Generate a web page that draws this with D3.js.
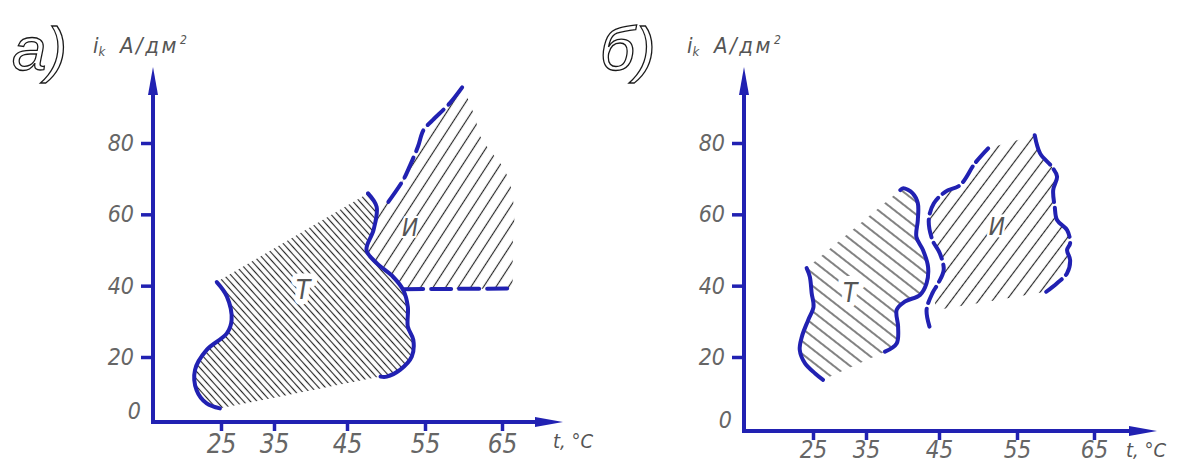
<!DOCTYPE html>
<html><head><meta charset="utf-8">
<script src="https://cdn.jsdelivr.net/npm/d3@7"></script>
<style>
html,body{margin:0;padding:0;background:#fff;}
svg{display:block;}
</style></head><body>
<svg id="chart" width="1178" height="465"></svg>
<script>
// ================= DATA =================
const xTicks = [25, 35, 45, 55, 65];          // t, °C
const yTicks = [0, 20, 40, 60, 80];           // i_k, A/дм²
const panelLetters = ["а)", "б)"];
const yTitleParts = ["i", "k", " A/дм", "2"];
const xTitle = "t, °C";
const regionNames = ["Т", "И"];

// ---- panel а) : [t, i] ----
const aTLeft  = [[24.2,41],[26.1,37],[27,30.4],[26.1,26.6],[22.3,22],[20.1,16.4],[20.4,10.7],[22.3,7],[24.8,5.6]];
const aTRight = [[47.7,65.9],[48.8,62.1],[48.4,55.6],[47.5,50],[48.8,46.3],[50.9,42.5],[52.2,38.8],[52.8,34.1],[52.8,28.5],[53.5,24.8],[53.3,20.1],[51.8,16.4],[50.1,14.5],[49.3,14.5]];
const aIBottom = [[52.2,39],[66.4,39.2]];
const aITop   = [[50.3,63.5],[52.2,69.6],[53.2,74.3],[54.1,79],[54.8,83.6],[56,86.4],[58.2,91.1],[59.9,95.8]];
const aIEdge  = [[59.9,95.8],[61.5,87.3],[62.1,82.2],[63.7,77.2],[65.1,73.3],[66,68.8],[66.6,60.4],[66.4,51.4],[66.4,39.2]];
const aLabelPos = [[39,38.8],[53.1,56.4]];

// ---- panel б) : [t, i] ----
const bTLeft  = [[23.8,44.9],[24.4,42.5],[24.75,37.9],[25.1,34.1],[24.1,30.4],[22.9,25.7],[22.5,22],[23.5,18.2],[25.4,15.4],[26.9,13.6]];
const bTRight = [[39.7,66.8],[40.1,67.3],[41.4,65.9],[42.1,63.1],[42.1,58.4],[41.9,53.7],[42.8,50],[43.5,45.3],[43.3,40.7],[42.4,37.4],[40.3,35.5],[39.2,33.2],[39.4,28.5],[39.2,23.8],[37.6,21.5]];
const bILeft  = [[51.3,78.5],[49.6,74.3],[47.7,68.2],[45.8,66.3],[44.3,63.1],[43.6,58.4],[44.1,52.8],[45.1,49.1],[45.6,44.4],[44.9,40.7],[44.1,37.9],[43.3,33.2],[43.7,28.5]];
const bIRight = [[57.3,82.2],[58,77.1],[59.5,73.4],[60.2,70.6],[59.7,66.8],[59.9,62.1],[60.2,58.4],[61.5,55.6],[61.9,51.9],[61.5,50],[61.9,47.2],[61.5,43.5],[60.2,40.7],[58.8,38.3]];
const bICorner = [44.7,33.2];
const bLabelPos = [[32,37.9],[52.4,56.5]];

// ================= DRAWING =================
const FONT = "'Liberation Sans Narrow','DejaVu Sans Condensed','Liberation Sans',sans-serif";
const BLUE = "#2121b2";
const svg = d3.select("#chart");
const defs = svg.append("defs");

const y = d3.scaleLinear().domain([20, 80]).range([357, 143]);
const tickPx = [221, 274, 347, 425, 502];

function hatch(id, spacing, angle) {
  const p = defs.append("pattern").attr("id", id).attr("patternUnits", "userSpaceOnUse")
    .attr("width", spacing).attr("height", 20).attr("patternTransform", `rotate(${angle})`);
  p.append("line").attr("x1", spacing / 2).attr("x2", spacing / 2).attr("y1", -2).attr("y2", 22)
    .attr("stroke", "#262626").attr("stroke-width", 1.15);
}
hatch("hAT", 5.0, -42);
hatch("hAI", 10.5, 33);
hatch("hBT", 10, -52);
hatch("hBI", 11, 37);

function piece(pts, sx, move) {
  const d = d3.line().x(p => sx(p[0])).y(p => y(p[1])).curve(d3.curveCatmullRom.alpha(0.5))(pts);
  return move ? d : d.replace(/^M/, "L");
}
function curve(g, pts, sx, dash) {
  g.append("path").attr("d", piece(pts, sx, true)).attr("fill", "none")
    .attr("stroke", BLUE).attr("stroke-width", 4).attr("stroke-linecap", "round")
    .attr("stroke-linejoin", "round").attr("stroke-dasharray", dash || null);
}
function regionLabel(g, txt, pos, sx, halo, size) {
  g.append("text").attr("x", sx(pos[0])).attr("y", y(pos[1])).attr("dy", "0.35em")
    .attr("text-anchor", "middle").attr("font-family", FONT).attr("font-style", "italic")
    .attr("font-size", size).attr("fill", "#555").attr("stroke", "#fff")
    .attr("stroke-width", halo).attr("paint-order", "stroke").attr("stroke-linejoin", "round")
    .text(txt);
}

const panels = [
  { off: 0,   axisX: 153, axisY: 422, xEnd: 563,  letterX: 12,  titleX: 93,  xTitleX: 553, xFont: 26, xPad: 4 },
  { off: 592, axisX: 744, axisY: 431, xEnd: 1157, letterX: 600, titleX: 687, xTitleX: 1126, xFont: 24, xPad: 1 }
];

panels.forEach((P, k) => {
  const g = svg.append("g");
  const sx = d3.scaleLinear().domain(xTicks).range(tickPx.map(v => v + P.off));

  // ---------- hatched regions ----------
  if (k === 0) {
    const dT = piece(aTLeft, sx, true) + piece(aTRight.slice().reverse(), sx) + "Z";
    const dI = piece(aIBottom, sx, true) + piece(aIEdge.slice().reverse(), sx) +
               piece(aITop.slice().reverse(), sx) + piece(aTRight.slice(1, 7), sx) + "Z";
    g.append("path").attr("d", dT).attr("fill", "url(#hAT)");
    g.append("path").attr("d", dI).attr("fill", "url(#hAI)");
    regionLabel(g, regionNames[0], aLabelPos[0], sx, 11, 26);
    regionLabel(g, regionNames[1], aLabelPos[1], sx, 4, 24);
    curve(g, aTLeft, sx);
    curve(g, aTRight, sx);
    curve(g, aIBottom, sx, "20 8");
    curve(g, aITop, sx, "22 7");
  } else {
    const dT = piece(bTLeft, sx, true) + piece(bTRight.slice().reverse(), sx) + "Z";
    const dI = piece(bILeft.slice(0, 11), sx, true) + `L${sx(bICorner[0])},${y(bICorner[1])}` +
               piece(bIRight.slice().reverse(), sx) + "Z";
    g.append("path").attr("d", dT).attr("fill", "url(#hBT)");
    g.append("path").attr("d", dI).attr("fill", "url(#hBI)");
    regionLabel(g, regionNames[0], bLabelPos[0], sx, 12, 26);
    regionLabel(g, regionNames[1], bLabelPos[1], sx, 5, 24);
    curve(g, bTLeft, sx);
    curve(g, bTRight, sx);
    curve(g, bILeft, sx, "18 6");
    curve(g, bIRight, sx, "34 6");
  }

  // ---------- axes ----------
  const gy = g.append("g").attr("transform", `translate(${P.axisX},0)`)
    .call(d3.axisLeft(y).tickValues(yTicks.filter(v => v > 0)).tickSize(12).tickPadding(7).tickFormat(d3.format("d")));
  gy.select(".domain").remove();
  gy.selectAll(".tick line").attr("stroke", BLUE).attr("stroke-width", 3.5);
  gy.selectAll(".tick text").attr("font-family", FONT).attr("font-style", "italic")
    .attr("font-size", 23).attr("fill", "#666");
  g.append("text").attr("x", P.axisX - 12).attr("y", P.axisY - 3).attr("text-anchor", "end")
    .attr("font-family", FONT).attr("font-style", "italic").attr("font-size", 23).attr("fill", "#666")
    .text(yTicks[0]);

  const gx = g.append("g").attr("transform", `translate(0,${P.axisY})`)
    .call(d3.axisBottom(sx).tickValues(xTicks).tickSize(9).tickPadding(P.xPad).tickFormat(d3.format("d")));
  gx.select(".domain").remove();
  gx.selectAll(".tick line").attr("stroke", BLUE).attr("stroke-width", 3.5);
  gx.selectAll(".tick text").attr("font-family", FONT).attr("font-style", "italic")
    .attr("font-size", P.xFont).attr("fill", "#666");

  // axis lines with arrows
  g.append("line").attr("x1", P.axisX).attr("x2", P.axisX).attr("y1", P.axisY + 2).attr("y2", 90)
    .attr("stroke", BLUE).attr("stroke-width", 4);
  g.append("path").attr("d", `M${P.axisX},67L${P.axisX - 5},95L${P.axisX + 5},95Z`).attr("fill", BLUE);
  g.append("line").attr("x1", P.axisX - 2).attr("x2", P.xEnd - 24).attr("y1", P.axisY).attr("y2", P.axisY)
    .attr("stroke", BLUE).attr("stroke-width", 4);
  g.append("path").attr("d", `M${P.xEnd},${P.axisY}L${P.xEnd - 28},${P.axisY - 5}L${P.xEnd - 28},${P.axisY + 5}Z`).attr("fill", BLUE);

  // axis titles
  const ty = g.append("text").attr("x", P.titleX).attr("y", 53).attr("font-family", FONT)
    .attr("font-style", "italic").attr("font-size", 22).attr("fill", "#555");
  ty.append("tspan").text(yTitleParts[0]);
  ty.append("tspan").attr("font-size", 13).attr("dy", 3).text(yTitleParts[1]);
  ty.append("tspan").attr("dy", -3).attr("dx", 6).attr("letter-spacing", 2.5).text(yTitleParts[2]);
  ty.append("tspan").attr("font-size", 12).attr("dy", -9).attr("dx", 1).text(yTitleParts[3]);

  g.append("text").attr("x", P.xTitleX).attr("y", P.axisY + 26).attr("font-family", FONT)
    .attr("font-style", "italic").attr("font-size", 20).attr("fill", "#555")
    .text(xTitle);

  // panel letter
  g.append("text").attr("x", P.letterX).attr("y", 70).attr("font-family", "'Liberation Sans','DejaVu Sans',sans-serif")
    .attr("font-style", "italic").attr("font-size", 62).attr("fill", "#fff")
    .attr("stroke", "#1a1a1a").attr("stroke-width", 1.3).text(panelLetters[k]);
});
</script>
</body></html>
